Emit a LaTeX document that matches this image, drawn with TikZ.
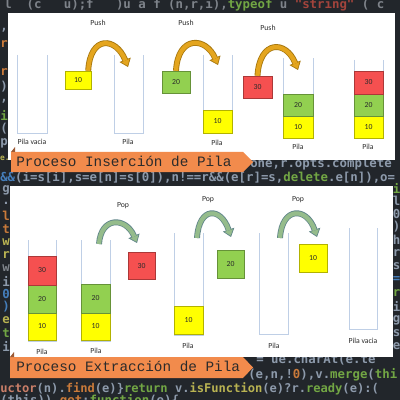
\documentclass[tikz,border=0pt]{standalone}
\usepackage{fontspec}
\setmainfont{Carlito}
\newfontfamily\ribbonfont{Liberation Mono}
\newfontfamily\codefont{DejaVu Sans Mono}
\usepackage{tikz}
\usetikzlibrary{arrows.meta,calc}
\usepackage{xcolor}
\definecolor{CodeBg}{HTML}{22262B}
\definecolor{CodeText}{HTML}{8D9AAB}
\definecolor{CodeDim}{HTML}{7E838A}
\definecolor{CodeGreen}{HTML}{72A644}
\definecolor{CodeYellow}{HTML}{B9B352}
\definecolor{CodeOrange}{HTML}{C97A3A}
\definecolor{CodePeach}{HTML}{C97E68}
\definecolor{CodeRed}{HTML}{A3443C}
\definecolor{CodeBlue}{HTML}{457EBB}
\definecolor{StackLine}{HTML}{BFCFE6}
\definecolor{StackYellow}{HTML}{FFFF00}
\definecolor{StackGreen}{HTML}{92D050}
\definecolor{StackRed}{HTML}{F55050}
\definecolor{TextDark}{HTML}{2B2B2B}
\definecolor{PushGold}{HTML}{E4A51E}
\definecolor{PushEdge}{HTML}{A8780F}
\definecolor{PopSage}{HTML}{95BC8B}
\definecolor{PopEdge}{HTML}{62878A}
\definecolor{RibbonOrange}{HTML}{F28B4C}
\definecolor{RibbonFold}{HTML}{9C5A35}

\tikzset{
  stackline/.style={draw=StackLine, line width=0.6pt},
  blk/.style n args={3}{draw=#1!70!black, fill=#1, line width=0.3pt, inner sep=0pt,
    minimum width=#2*0.025cm, minimum height=#3*0.025cm,
    font=\fontsize{5.5}{6}\selectfont, text=TextDark},
  caption/.style={font=\fontsize{5.5}{6}\selectfont, text=TextDark, inner sep=0pt},
  pusharrow/.style={draw=PushEdge, line width=4.2pt,
    -{Triangle[length=5.5pt, width=8.5pt, line width=0.5pt, fill=PushGold]},
    postaction={draw=PushGold, line width=3pt, -, shorten >=5pt}},
  poparrow/.style={draw=PopEdge, line width=4.2pt,
    -{Triangle[length=5.5pt, width=8.5pt, line width=0.5pt, fill=PopSage]},
    postaction={draw=PopSage, line width=3pt, -, shorten >=5pt}},
  ribbontext/.style={font=\ribbonfont\fontsize{10.2}{12}\selectfont, text=TextDark,
    inner sep=0pt, anchor=base west},
  code/.style={font=\codefont\bfseries\fontsize{8.8}{10}\selectfont, text=CodeText,
    inner sep=0pt, anchor=west},
}

\begin{document}
\begin{tikzpicture}[x=0.025cm, y=-0.025cm, >=Stealth]
  \useasboundingbox (0,0) rectangle (400,400);
  \clip (0,0) rectangle (400,400);
  \fill[CodeBg] (0,0) rectangle (400,400);

  \node[code, text=CodeDim] (c1) at (4,5) {l~~(c~~~u);f~~~)u a f (n,r,i),\textcolor{CodeGreen}{typeof} u \textcolor{CodeRed}{"string"} ( c};
  \node[code] (c2) at (250,164) {one,r.opts.complete};
  \node[code] (c3) at (0,177) {\textcolor{CodeBlue}{\&\&}(i=s[i],s=e[n]=s[0]),n!==r\&\&(e[r]=s,\textcolor{CodeGreen}{delete}.e[n]),o=};
  \node[code] (c4) at (256,360) {= ue.charAt(e.te};
  \node[code] (c5) at (248,375) {(e,n,!\textcolor{CodeOrange}{0}),v.\textcolor{CodeGreen}{merge}(\textcolor{CodeGreen}{thi}};
  \node[code, font=\codefont\bfseries\fontsize{8.6}{10}\selectfont] (c6) at (0,389) {\textcolor{CodePeach}{uctor}(n).\textcolor{CodeOrange}{find}(e)\}\textcolor{CodeGreen}{return} v.\textcolor{CodeYellow}{isFunction}(e)?r.\textcolor{CodeGreen}{ready}(e):(};
  \node[code] (c7) at (0,401) {(this)).\textcolor{CodeOrange}{get};\textcolor{CodeGreen}{function}(e)\{};
  \foreach \yy/\txt/\col in {30/{,}/CodeText, 44/r/CodeOrange, 72/r/CodeOrange, 87/)/CodeText,
      101/{,}/CodeText, 115/i/CodeGreen, 129/(/CodeText, 143/p/CodeText}
    \node[code, anchor=east, text=\col] (left\yy) at (8,\yy) {\txt};
  \foreach \yy/\txt/\col in {190/g/CodeText, 203/./CodeText, 216/l/CodeOrange, 229/t/CodeOrange,
      242/w/CodeYellow, 255/r/CodeYellow, 268/w/CodeDim, 281/i/CodeText, 294/0/CodeBlue,
      307/)/CodeBlue, 320/e/CodeYellow, 333/t/CodeGreen, 346/i/CodeText}
    \node[code, anchor=east, text=\col] (left\yy) at (10,\yy) {\txt};
  \node[code, anchor=east, text=CodeYellow, font=\codefont\bfseries\fontsize{5.6}{6}\selectfont] (left157) at (10,158) {e.};
  \foreach \yy/\txt/\col in {188/i/CodeGreen, 201/l/CodeText, 214/0/CodeText, 227/)/CodeText,
      240/h/CodeText, 253/r/CodeText, 266/s/CodeText, 280/=/CodeBlue, 293/r/CodeGreen,
      306/i/CodeText, 320/g/CodeText, 333/s/CodeText, 346/e/CodeText}
    \node[code, text=\col] (right\yy) at (392.5,\yy) {\txt};

  \fill[white] (8,13) rectangle (395,160);
  \fill[white] (10,186) rectangle (393,357);

  \draw[stackline] (17,55) |- (47,133) -- (47,55);
  \node[caption] (pila1) at (32,142) {Pila vacia};
  \node[blk={StackYellow}{26}{18}] (in10) at (78,80) {10};
  \node[caption] (push1) at (98,23) {Push};
  \coordinate (push1end) at (128,67);
  \draw[pusharrow] ($(in10.north east)+(-3,0)$) .. controls +(2,-36) and +(-12,-30) .. (push1end);

  \draw[stackline] (114,55) |- (143,133) -- (143,55);
  \node[caption] (pila2) at (128,142) {Pila};
  \node[blk={StackGreen}{28}{22}] (in20) at (176,82) {20};
  \node[caption] (push2) at (186,23) {Push};
  \coordinate (push2end) at (218,65);
  \draw[pusharrow] (in20.north) .. controls +(2,-36) and +(-12,-28) .. (push2end);

  \draw[stackline] (203,55) |- (232,133) -- (232,55);
  \node[blk={StackYellow}{29}{23}] (p3a) at (217.5,121.5) {10};
  \node[caption] (pila3) at (217,143) {Pila};
  \node[blk={StackRed}{29}{22}] (in30) at (257.5,87) {30};
  \node[caption] (push3) at (268,28) {Push};
  \coordinate (push3end) at (298,70);
  \draw[pusharrow] (in30.north) .. controls +(2,-36) and +(-12,-30) .. (push3end);

  \draw[stackline] (283,58) |- (313,138) -- (313,58);
  \node[blk={StackYellow}{30}{22}] (p4a) at (298,127) {10};
  \node[blk={StackGreen}{30}{22}] (p4b) at (298,105) {20};
  \node[caption] (pila4) at (298,147) {Pila};

  \draw[stackline] (354,60) |- (383,138) -- (383,60);
  \node[blk={StackYellow}{29}{22}] (p5a) at (368.5,127) {10};
  \node[blk={StackGreen}{29}{22}] (p5b) at (368.5,105) {20};
  \node[blk={StackRed}{29}{23}] (p5c) at (368.5,82.5) {30};
  \node[caption] (pila5) at (368,147) {Pila};

  \draw[stackline] (28,240) |- (56,341) -- (56,240);
  \node[blk={StackYellow}{28}{27}] (q1a) at (42,326.5) {10};
  \node[blk={StackGreen}{28}{28}] (q1b) at (42,299) {20};
  \node[blk={StackRed}{28}{29}] (q1c) at (42,270.5) {30};
  \node[caption] (pila6) at (42,352) {Pila};

  \draw[stackline] (81,240) |- (110,341) -- (110,240);
  \node[blk={StackYellow}{29}{27}] (q2a) at (95.5,326.5) {10};
  \node[blk={StackGreen}{29}{29}] (q2b) at (95.5,298.5) {20};
  \node[caption] (pila7) at (96,351) {Pila};
  \node[caption] (pop1) at (123,206) {Pop};
  \coordinate (pop1start) at (99,244);
  \coordinate (pop1end) at (137,243);
  \node[blk={StackRed}{27}{27}] (out30) at (141.5,266) {30};
  \draw[poparrow] (pop1start) .. controls +(2,-28) and +(-11,-26) .. (pop1end);

  \draw[stackline] (174,233) |- (203,335) -- (203,233);
  \node[blk={StackYellow}{29}{28}] (q3a) at (188.5,320) {10};
  \node[caption] (pila8) at (188,346) {Pila};
  \node[caption] (pop2) at (208,200) {Pop};
  \coordinate (pop2start) at (197,238);
  \coordinate (pop2end) at (231,237);
  \node[blk={StackGreen}{27}{28}] (out20) at (230.5,264) {20};
  \draw[poparrow] (pop2start) .. controls +(2,-32) and +(-10,-30) .. (pop2end);

  \draw[stackline] (259,233) |- (288,334) -- (288,233);
  \node[caption] (pila9) at (274,346) {Pila};
  \node[caption] (pop3) at (298,200) {Pop};
  \coordinate (pop3start) at (280,238);
  \coordinate (pop3end) at (317,237);
  \node[blk={StackYellow}{28}{28}] (out10) at (313,258) {10};
  \draw[poparrow] (pop3start) .. controls +(2,-32) and +(-10,-30) .. (pop3end);

  \draw[stackline] (349,228) |- (377,329) -- (377,228);
  \node[caption] (pila10) at (363,341) {Pila vacia};

  \fill[RibbonOrange] (11,152) -- (243,152) -- (253,162) -- (243,172) -- (11,172) -- cycle;
  \fill[RibbonFold] (11,152) -- (15,147) -- (15,152) -- cycle;
  \node[ribbontext] (insert) at (16,166.5) {Proceso Inserción de Pila};
  \fill[RibbonOrange] (10,357) -- (243,357) -- (253,367.5) -- (243,378) -- (10,378) -- cycle;
  \fill[RibbonFold] (10,357) -- (14,352) -- (14,357) -- cycle;
  \node[ribbontext] (extract) at (16,371.5) {Proceso Extracción de Pila};
\end{tikzpicture}
\end{document}
